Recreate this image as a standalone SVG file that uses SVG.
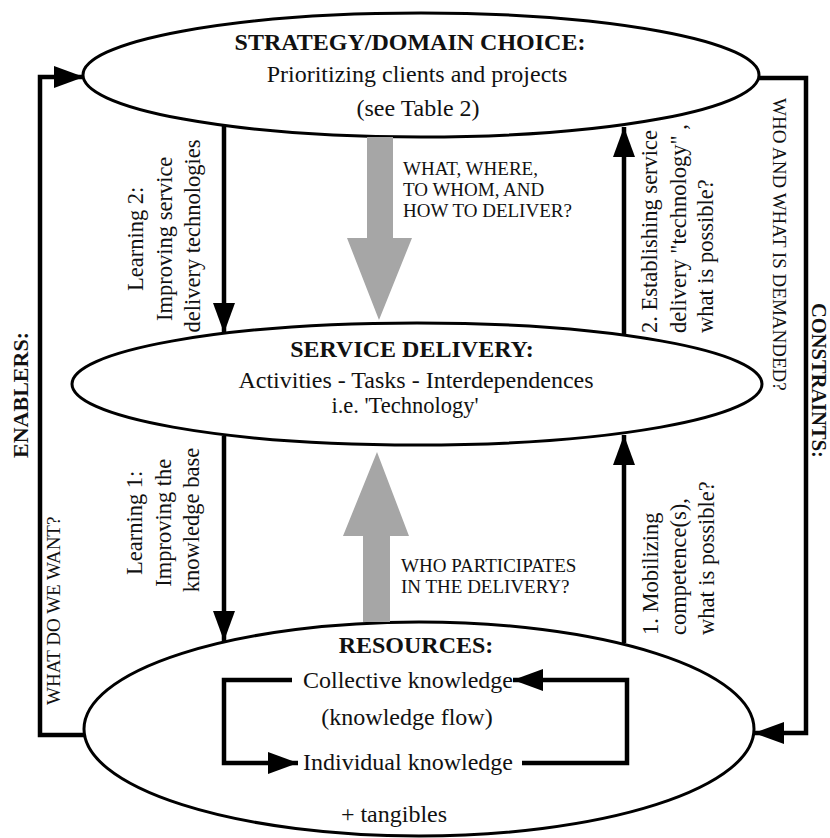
<svg xmlns="http://www.w3.org/2000/svg" width="830" height="838" viewBox="0 0 830 838">
  <style>
    .shape { fill: #fff; stroke: #000; stroke-width: 3; }
    .conn { fill: none; stroke: #000; stroke-width: 4.5; }
    .flow { fill: #a6a6a6; stroke: none; }
    .t { font-family: "Liberation Serif", "Times New Roman", serif; fill: #111; }
    .h { font-size: 24px; font-weight: bold; }
    .b { font-size: 24px; }
    .s { font-size: 22.5px; }
    .v { font-size: 22.5px; }
    .q { font-size: 19px; }
    .vb { font-size: 22px; font-weight: bold; }
    .vbs { font-size: 20.5px; font-weight: bold; }
  </style>
  <defs>
    <marker id="head" viewBox="0 0 30 22" refX="30" refY="11" markerWidth="30" markerHeight="22" markerUnits="userSpaceOnUse" orient="auto">
      <path d="M0,0 L30,11 L0,22 Z" fill="#000"/>
    </marker>
  </defs>

  <rect width="830" height="838" fill="#fff"/>

  <!-- Strategy ellipse -->
  <g id="strategy">
    <ellipse class="shape" cx="421" cy="75" rx="338" ry="62"/>
    <text class="t h" x="410" y="50" text-anchor="middle">STRATEGY/DOMAIN CHOICE:</text>
    <text class="t b" x="417" y="82" text-anchor="middle">Prioritizing clients and projects</text>
    <text class="t b" x="418" y="116" text-anchor="middle">(see Table 2)</text>
  </g>

  <!-- Service delivery ellipse -->
  <g id="service-delivery">
    <ellipse class="shape" cx="417" cy="384" rx="345" ry="61"/>
    <text class="t h" x="412" y="357" text-anchor="middle">SERVICE DELIVERY:</text>
    <text class="t b" x="416" y="388" text-anchor="middle">Activities - Tasks - Interdependences</text>
    <text class="t s" x="405" y="413" text-anchor="middle">i.e.  'Technology'</text>
  </g>

  <!-- Resources ellipse -->
  <g id="resources">
    <ellipse class="shape" cx="419" cy="729" rx="335" ry="107"/>
    <text class="t h" x="416" y="653" text-anchor="middle">RESOURCES:</text>
    <text class="t b" x="408" y="688" text-anchor="middle">Collective knowledge</text>
    <text class="t b" x="407" y="725" text-anchor="middle">(knowledge flow)</text>
    <text class="t b" x="408" y="770" text-anchor="middle">Individual knowledge</text>
    <text class="t b" x="394" y="822" text-anchor="middle">+ tangibles</text>
  </g>

  <!-- Connectors -->
  <g id="connectors">
    <!-- broad grey flows -->
    <path class="flow" d="M367,137 L393,137 L393,238 L412,238 L379,320 L347,238 L367,238 Z"/>
    <path class="flow" d="M363,622 L390,622 L390,536 L409,536 L377,452 L343,536 L363,536 Z"/>

    <!-- learning and mobilising arrows -->
    <path class="conn" d="M224,126 L224,333" marker-end="url(#head)"/>
    <path class="conn" d="M624,334 L624,127" marker-end="url(#head)"/>
    <path class="conn" d="M224,436 L224,641" marker-end="url(#head)"/>
    <path class="conn" d="M624,643 L624,435" marker-end="url(#head)"/>

    <!-- enablers loop (left) -->
    <path class="conn" d="M85,735 L40,735 L40,77 L84,77" marker-end="url(#head)"/>
    <!-- constraints loop (right) -->
    <path class="conn" d="M758,78 L806,78 L806,733 L754,733" marker-end="url(#head)"/>

    <!-- knowledge flow loop inside resources -->
    <path class="conn" d="M292,680 L224,680 L224,763 L298,763" marker-end="url(#head)"/>
    <path class="conn" d="M522,763 L627,763 L627,680 L513,680" marker-end="url(#head)"/>
  </g>

  <!-- Side labels -->
  <g id="labels">
    <text class="t vb" transform="translate(28,395) rotate(-90)" text-anchor="middle">ENABLERS:</text>
    <text class="t q" transform="translate(60,705) rotate(-90)">WHAT DO WE WANT?</text>
    <text class="t vbs" transform="translate(812,303) rotate(90)">CONSTRAINTS:</text>
    <text class="t q" transform="translate(773,98) rotate(90)">WHO AND WHAT IS DEMANDED?</text>

    <text class="t v" transform="translate(143,236) rotate(-90)" text-anchor="middle">
      <tspan x="0" y="0">Learning 2:</tspan>
      <tspan x="0" y="28.5">Improving service</tspan>
      <tspan x="0" y="57">delivery technologies</tspan>
    </text>
    <text class="t v" transform="translate(142,520) rotate(-90)" text-anchor="middle">
      <tspan x="0" y="0">Learning 1:</tspan>
      <tspan x="0" y="28.5">Improving the</tspan>
      <tspan x="0" y="57">knowledge base</tspan>
    </text>
    <text class="t v" transform="translate(657,333) rotate(-90)">
      <tspan x="0" y="0">2. Establishing service</tspan>
      <tspan x="0" y="28.5">delivery "technology" ,</tspan>
      <tspan x="0" y="56">what is possible?</tspan>
    </text>
    <text class="t v" transform="translate(658,635) rotate(-90)">
      <tspan x="0" y="0">1. Mobilizing</tspan>
      <tspan x="0" y="28">competence(s),</tspan>
      <tspan x="0" y="56">what is possible?</tspan>
    </text>

    <text class="t q">
      <tspan x="403" y="175">WHAT, WHERE,</tspan>
      <tspan x="403" y="196">TO WHOM, AND</tspan>
      <tspan x="403" y="217">HOW TO DELIVER?</tspan>
    </text>
    <text class="t q">
      <tspan x="401" y="572">WHO PARTICIPATES</tspan>
      <tspan x="401" y="593">IN THE DELIVERY?</tspan>
    </text>
  </g>
</svg>
